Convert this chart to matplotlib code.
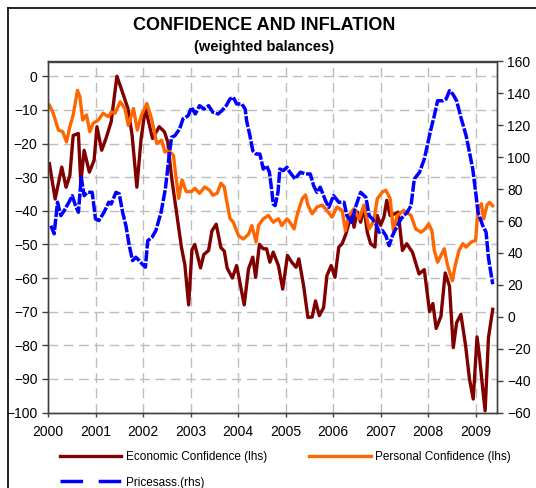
import numpy as np
import matplotlib
matplotlib.use('Agg')
import matplotlib.pyplot as plt
from matplotlib.lines import Line2D

plt.rcParams['font.family'] = ['Liberation Sans', 'DejaVu Sans']

# --- data (decimal year, value) ---
eco_t = [2000.03, 2000.15, 2000.29, 2000.38, 2000.46, 2000.53, 2000.64, 2000.69, 2000.76, 2000.87,
         2000.97, 2001.03, 2001.13, 2001.22, 2001.33, 2001.45, 2001.54, 2001.68, 2001.77, 2001.87,
         2001.96, 2002.05, 2002.20, 2002.34, 2002.45, 2002.52, 2002.60, 2002.81, 2002.88, 2002.96,
         2003.03, 2003.09, 2003.21, 2003.28, 2003.38, 2003.45, 2003.54, 2003.64, 2003.71, 2003.77,
         2003.88, 2003.97, 2004.13, 2004.22, 2004.31, 2004.37, 2004.45, 2004.53, 2004.60, 2004.67,
         2004.74, 2004.85, 2004.94, 2005.04, 2005.13, 2005.22, 2005.28, 2005.38, 2005.47, 2005.56,
         2005.63, 2005.71, 2005.80, 2005.87, 2005.96, 2006.04, 2006.12, 2006.19, 2006.27, 2006.34,
         2006.40, 2006.44, 2006.51, 2006.58, 2006.65, 2006.72, 2006.79, 2006.88, 2006.93, 2007.00,
         2007.07, 2007.13, 2007.20, 2007.30, 2007.37, 2007.46, 2007.55, 2007.67, 2007.81, 2007.92,
         2008.03, 2008.10, 2008.17, 2008.27, 2008.36, 2008.45, 2008.53, 2008.60, 2008.69, 2008.79,
         2008.87, 2008.95, 2009.03, 2009.08, 2009.15, 2009.20, 2009.27, 2009.36]
eco_v = [-26, -36.5, -27, -33, -29.5, -17.6, -17, -32, -22, -28.5,
         -25, -15, -22, -18.5, -13.5, 0, -3.6, -9.5, -17.5, -33,
         -18.5, -9.5, -18.5, -15, -16.5, -19.5, -30, -51, -56, -68,
         -51.6, -50, -57, -53, -51.8, -46, -44, -51, -52, -57,
         -60, -56.3, -68, -57.3, -53.8, -59.8, -50, -51.3, -51.3, -55.3,
         -52.3, -56.3, -63.3, -53.3, -55.3, -56.8, -54.3, -62.3, -71.7, -71.6,
         -66.8, -71.2, -68.8, -59.3, -56.3, -59.8, -50.8, -49.8, -46.9, -43.4,
         -41.4, -44.9, -40.4, -43.4, -38.9, -46.4, -49.8, -50.8, -41.4, -44.3,
         -41.9, -36.9, -41.4, -40.9, -40.4, -51.8, -49.8, -52.3, -58.8, -57.5,
         -70, -67.6, -75, -71.4, -58.5, -62.4, -80.7, -73.3, -70.8, -80.2,
         -90, -96, -77.5, -83.2, -93, -99.5, -77.8, -69.3]

pers_t = [2000.03, 2000.11, 2000.22, 2000.31, 2000.39, 2000.46, 2000.53, 2000.62, 2000.67, 2000.73,
          2000.81, 2000.88, 2000.95, 2001.06, 2001.16, 2001.27, 2001.34, 2001.41, 2001.52, 2001.62,
          2001.69, 2001.80, 2001.88, 2001.97, 2002.08, 2002.18, 2002.29, 2002.39, 2002.46, 2002.53,
          2002.64, 2002.68, 2002.75, 2002.82, 2002.91, 2003.02, 2003.09, 2003.19, 2003.30, 2003.40,
          2003.47, 2003.56, 2003.64, 2003.71, 2003.75, 2003.83, 2003.90, 2004.01, 2004.11, 2004.22,
          2004.29, 2004.38, 2004.43, 2004.53, 2004.64, 2004.74, 2004.85, 2004.92, 2005.03, 2005.09,
          2005.18, 2005.24, 2005.35, 2005.42, 2005.47, 2005.56, 2005.66, 2005.77, 2005.87, 2005.98,
          2006.08, 2006.19, 2006.26, 2006.33, 2006.44, 2006.55, 2006.65, 2006.76, 2006.86, 2006.93,
          2007.04, 2007.11, 2007.20, 2007.27, 2007.35, 2007.49, 2007.64, 2007.74, 2007.85, 2007.94,
          2008.01, 2008.08, 2008.13, 2008.20, 2008.27, 2008.34, 2008.41, 2008.51, 2008.57, 2008.65,
          2008.73, 2008.80, 2008.91, 2009.00, 2009.05, 2009.12, 2009.17, 2009.24, 2009.29, 2009.36]
pers_v = [-8.6, -11, -16, -16.5, -19.5, -15, -11.5, -4.2, -6, -13,
          -11.5, -16.5, -14, -13, -11, -12, -10.6, -11, -7.6, -9.6,
          -14.6, -9.6, -16, -11.5, -8.1, -12.6, -20, -19, -22.5, -22,
          -23.5, -28.4, -36.3, -30.8, -34.3, -34.3, -33.3, -34.8, -32.9, -33.9,
          -35.4, -34.8, -31.8, -32.9, -36.3, -42.3, -43.4, -47.4, -48.4, -47,
          -44.4, -49.3, -44.4, -42.4, -41.4, -43.4, -42.4, -44.4, -42.4, -43.4,
          -45.4, -41.4, -36.4, -35.3, -38.3, -40.9, -38.9, -38.3, -39.9, -41.9,
          -38.9, -39.9, -45.9, -41.4, -39.4, -42.4, -38.3, -45.4, -42.9, -36.4,
          -34.4, -33.9, -36.3, -45.9, -41.4, -39.9, -41.4, -45.4, -46.4, -45.4,
          -43.9, -45.9, -51.8, -55.3, -53.3, -51.3, -56.3, -60.8, -56.3, -51.8,
          -49.8, -50.8, -49.3, -48.8, -39.4, -37.9, -42.4, -38.3, -37.5, -38.5]

price_t = [2000.06, 2000.13, 2000.20, 2000.27, 2000.34, 2000.44, 2000.51, 2000.58, 2000.64, 2000.70,
           2000.76, 2000.83, 2000.93, 2001.00, 2001.07, 2001.18, 2001.28, 2001.33, 2001.43, 2001.50,
           2001.57, 2001.64, 2001.71, 2001.78, 2001.85, 2001.92, 2001.98, 2002.05, 2002.10, 2002.19,
           2002.27, 2002.38, 2002.47, 2002.55, 2002.60, 2002.67, 2002.77, 2002.84, 2002.95, 2003.02,
           2003.10, 2003.19, 2003.28, 2003.38, 2003.47, 2003.58, 2003.66, 2003.75, 2003.83, 2003.90,
           2003.97, 2004.08, 2004.15, 2004.18, 2004.25, 2004.31, 2004.38, 2004.46, 2004.53, 2004.60,
           2004.66, 2004.71, 2004.74, 2004.78, 2004.84, 2004.88, 2004.95, 2005.03, 2005.09, 2005.20,
           2005.31, 2005.42, 2005.52, 2005.59, 2005.66, 2005.73, 2005.84, 2005.91, 2006.01, 2006.12,
           2006.23, 2006.29, 2006.39, 2006.47, 2006.58, 2006.69, 2006.76, 2006.83, 2006.90, 2006.97,
           2007.04, 2007.11, 2007.18, 2007.25, 2007.32, 2007.43, 2007.49, 2007.56, 2007.64, 2007.71,
           2007.82, 2007.92, 2007.99, 2008.06, 2008.13, 2008.20, 2008.31, 2008.38, 2008.45, 2008.52,
           2008.60, 2008.69, 2008.80, 2008.87, 2008.94, 2009.01, 2009.05, 2009.15, 2009.22, 2009.27,
           2009.36]
price_v = [57.1, 52, 71.8, 63.4, 66.5, 71.8, 75.9, 69.6, 65.5, 87.4,
           75.9, 78, 78, 61.3, 60.3, 65.5, 71.8, 70.7, 78, 77,
           65.5, 57.1, 44.6, 35.2, 37.3, 35.2, 33.1, 31.1, 47.7, 49.9,
           54, 65.5, 80.1, 101, 112.5, 113.5, 117.7, 124, 126, 131.3,
           127.1, 132.3, 130.2, 132.3, 128.2, 127.1, 129.2, 132.3, 136.5, 137.6,
           133.4, 133.4, 130.2, 122.9, 113.5, 104.1, 102, 102, 92.6, 94.7,
           90.6, 79.1, 70.7, 69.7, 78, 92.6, 91.6, 93.7, 90.6, 86.4,
           90.6, 89.5, 89.5, 82.2, 78, 81.2, 72.8, 68.6, 75.9, 71.8,
           71.8, 63.4, 59.2, 68.6, 78, 74.9, 63.4, 61.3, 58.2, 53,
           54, 50.9, 44.6, 50.9, 55.1, 61.3, 63.4, 65.5, 69.7, 86.4,
           90.6, 98.9, 108.3, 117.7, 126, 135.4, 135.4, 136.5, 141.7, 139.6,
           135.4, 125, 113.5, 103.1, 92.6, 75.9, 65.5, 57.1, 53, 37,
           20.4]

years = list(range(2000, 2010))
left_ticks = list(range(0, -101, -10))
right_ticks = list(range(-60, 161, 20))

ECO = '#800000'
PERS = '#FF6600'
PRICE = '#0000FF'

fig = plt.figure(figsize=(5.36, 4.88), dpi=100)
ax = fig.add_axes([48 / 536, 1 - 412.5 / 488, 449 / 536, 351 / 488])
ax2 = ax.twinx()

ax.set_xlim(2000, 2009.45)
ax.set_ylim(-100, 4.4)
ax2.set_ylim(-60, 160)

# dashed grey grid
for v in left_ticks:
    ax.axhline(v, color='#bdbdbd', lw=1, dashes=(7, 4), zorder=0)
for y in years[1:]:
    ax.axvline(y, color='#bdbdbd', lw=1, dashes=(7, 4), zorder=0)

l1, = ax.plot(eco_t, eco_v, color=ECO, lw=2.4, solid_joinstyle='round')
l2, = ax.plot(pers_t, pers_v, color=PERS, lw=2.4, solid_joinstyle='round')
l3, = ax2.plot(price_t, price_v, color=PRICE, lw=2.5, dashes=(3.2, 0.5))

ax.set_xticks(years)
ax.set_xticklabels([str(y) for y in years])
ax.set_yticks(left_ticks)
ax2.set_yticks(right_ticks)
ax.tick_params(axis='both', labelsize=10, length=4, width=1, color='#404040', direction='out')
ax.tick_params(axis='x', length=3, pad=6)
ax2.tick_params(axis='y', labelsize=10, length=4, width=1, color='#404040', direction='out')

for a in (ax, ax2):
    for s in a.spines.values():
        s.set_color('#404040')
        s.set_linewidth(1)

fig.text(0.492, 1 - 25.5 / 488, 'CONFIDENCE AND INFLATION', ha='center', va='center',
         fontsize=13, fontweight='bold')
fig.text(0.492, 1 - 46.5 / 488, '(weighted balances)', ha='center', va='center',
         fontsize=10.5, fontweight='bold')

# frame round the chart (left and top edges visible)
fig.add_artist(Line2D([7.5 / 536, 7.5 / 536], [0, 1 - 7.5 / 488], color='black', lw=1.2,
                      transform=fig.transFigure))
fig.add_artist(Line2D([7.5 / 536, 1], [1 - 7.5 / 488, 1 - 7.5 / 488], color='black', lw=1.2,
                      transform=fig.transFigure))

# legend handle for the dashed series shows two long dashes, as in the original
price_handle = Line2D([], [], color=PRICE, lw=2.5, dashes=(6.5, 4.5))
fig.legend([l1, price_handle, l2],
           ['Economic Confidence (lhs)', 'Pricesass.(rhs)', 'Personal Confidence (lhs)'],
           ncol=2, loc='upper left', bbox_to_anchor=(60 / 536, 1 - 451 / 488),
           frameon=False, fontsize=8.5, handlelength=5.2, handletextpad=0.35,
           columnspacing=3.6, labelspacing=1.15, borderpad=0, borderaxespad=0)

fig.savefig('out.png', dpi=100)
